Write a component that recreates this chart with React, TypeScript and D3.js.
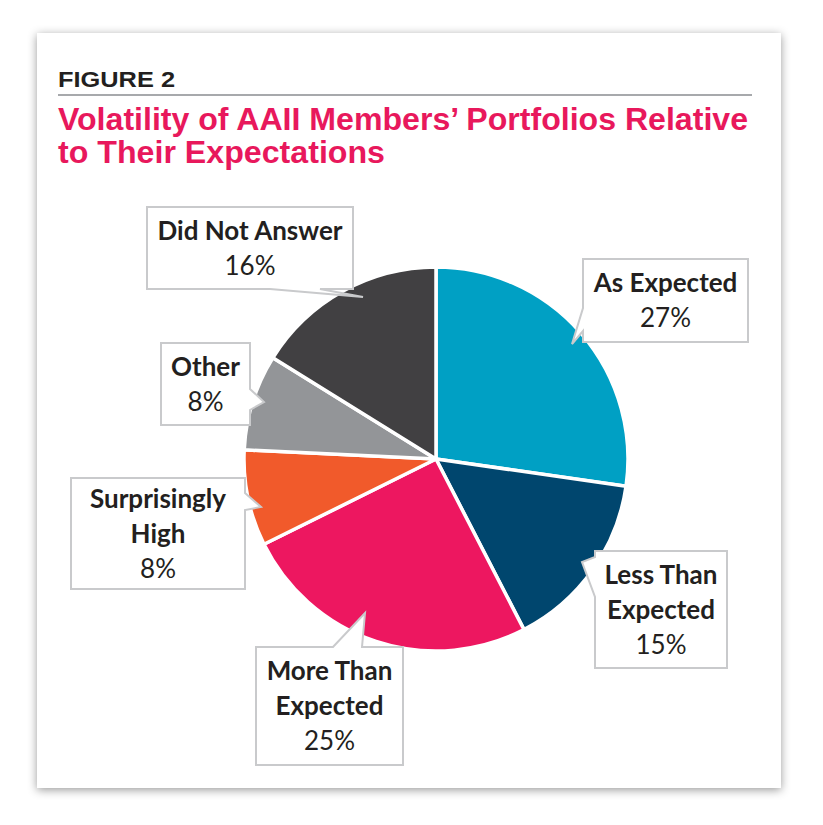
import React from "react";
import * as d3 from "d3";

const categories = [
  "As Expected",
  "Less Than Expected",
  "More Than Expected",
  "Surprisingly High",
  "Other",
  "Did Not Answer",
];
const values = [27, 15, 25, 8, 8, 16];
const colors = ["#00A0C4", "#00466E", "#ED1760", "#F15A2B", "#939598", "#414042"];
const labelLines = [
  ["As Expected"],
  ["Less Than", "Expected"],
  ["More Than", "Expected"],
  ["Surprisingly", "High"],
  ["Other"],
  ["Did Not Answer"],
];

const figureLabel = "FIGURE 2";
const titleLines = ["Volatility of AAII Members\u2019 Portfolios Relative", "to Their Expectations"];

type Edge = "left" | "right" | "top" | "bottom";
interface Callout {
  x: number; y: number; w: number; h: number;
  edge: Edge; a: number; b: number; tip: [number, number];
}

// Layout of the callout boxes (positions only)
const callouts: Callout[] = [
  { x: 583, y: 259, w: 165, h: 83, edge: "left", a: 308, b: 331, tip: [572, 344] },
  { x: 595, y: 551, w: 132, h: 117, edge: "left", a: 557, b: 597, tip: [582, 562] },
  { x: 256, y: 647, w: 147, h: 118, edge: "top", a: 333, b: 362, tip: [365, 613] },
  { x: 71, y: 478, w: 174, h: 111, edge: "right", a: 493, b: 510, tip: [261, 507] },
  { x: 161, y: 343, w: 89, h: 82, edge: "right", a: 389, b: 410, tip: [264, 402] },
  { x: 147, y: 207, w: 206, h: 82, edge: "bottom", a: 320, b: 270, tip: [363, 297] },
];

function calloutPath(c: Callout): string {
  const { x, y, w, h, edge, a, b, tip } = c;
  const x2 = x + w, y2 = y + h;
  const p = d3.path();
  p.moveTo(x, y);
  if (edge === "top") { p.lineTo(Math.min(a, b), y); p.lineTo(tip[0], tip[1]); p.lineTo(Math.max(a, b), y); }
  p.lineTo(x2, y);
  if (edge === "right") { p.lineTo(x2, Math.min(a, b)); p.lineTo(tip[0], tip[1]); p.lineTo(x2, Math.max(a, b)); }
  p.lineTo(x2, y2);
  if (edge === "bottom") { p.lineTo(Math.max(a, b), y2); p.lineTo(tip[0], tip[1]); p.lineTo(Math.min(a, b), y2); }
  p.lineTo(x, y2);
  if (edge === "left") { p.lineTo(x, Math.max(a, b)); p.lineTo(tip[0], tip[1]); p.lineTo(x, Math.min(a, b)); }
  p.closePath();
  return p.toString();
}

export default function App() {
  const W = 823, H = 825;
  const cx = 436, cy = 459, r = 192;
  const pie = d3.pie<number>().sort(null).value((d) => d);
  const arcs = pie(values);
  const arcGen = d3.arc<d3.PieArcDatum<number>>().innerRadius(0).outerRadius(r);
  const labelFont = "Lato, 'Open Sans', sans-serif";
  const titleFont = "'Liberation Sans Narrow', 'Arial Narrow', 'Liberation Sans', Arial, sans-serif";
  const lineH = 35;

  return (
    <svg width={W} height={H} viewBox={`0 0 ${W} ${H}`} style={{ position: "absolute", left: 0, top: 0, background: "#fff" }}>
      <defs>
        <filter id="shadow" x="-10%" y="-10%" width="120%" height="120%">
          <feDropShadow dx="0" dy="2" stdDeviation="5" floodColor="#000" floodOpacity="0.4" />
        </filter>
      </defs>
      <rect x={37} y={33} width={744} height={755} fill="#fff" filter="url(#shadow)" />

      <text x={58} y={87} fontFamily={titleFont} fontWeight="bold" fontSize={22} fill="#231F20"
        textLength={117} lengthAdjust="spacingAndGlyphs">{figureLabel}</text>
      <line x1={58} x2={752} y1={95} y2={95} stroke="#A7A9AC" strokeWidth={2} />
      <text x={58} y={130} fontFamily={titleFont} fontWeight="bold" fontSize={31} fill="#E8185C"
        textLength={690} lengthAdjust="spacingAndGlyphs">{titleLines[0]}</text>
      <text x={58} y={163} fontFamily={titleFont} fontWeight="bold" fontSize={31} fill="#E8185C"
        textLength={327} lengthAdjust="spacingAndGlyphs">{titleLines[1]}</text>

      <g transform={`translate(${cx},${cy})`}>
        {arcs.map((a, i) => (
          <path key={categories[i]} d={arcGen(a) || ""} fill={colors[i]} stroke="#fff" strokeWidth={3.5} strokeLinejoin="round" />
        ))}
      </g>

      {callouts.map((c, i) => {
        const lines = labelLines[i];
        const n = lines.length + 1;
        const midX = c.x + c.w / 2;
        const firstBase = c.y + c.h / 2 - ((n - 1) * lineH) / 2 + 9;
        return (
          <g key={"c" + i}>
            <path d={calloutPath(c)} fill="#fff" stroke="#C9CACC" strokeWidth={2} strokeLinejoin="miter" />
            {lines.map((l, j) => (
              <text key={j} x={midX} y={firstBase + j * lineH} textAnchor="middle" fontFamily={labelFont}
                fontWeight="bold" fontSize={26} fill="#231F20">{l}</text>
            ))}
            <text x={midX} y={firstBase + lines.length * lineH} textAnchor="middle" fontFamily={labelFont}
              fontWeight="normal" fontSize={26} fill="#231F20">{values[i]}%</text>
          </g>
        );
      })}
    </svg>
  );
}
